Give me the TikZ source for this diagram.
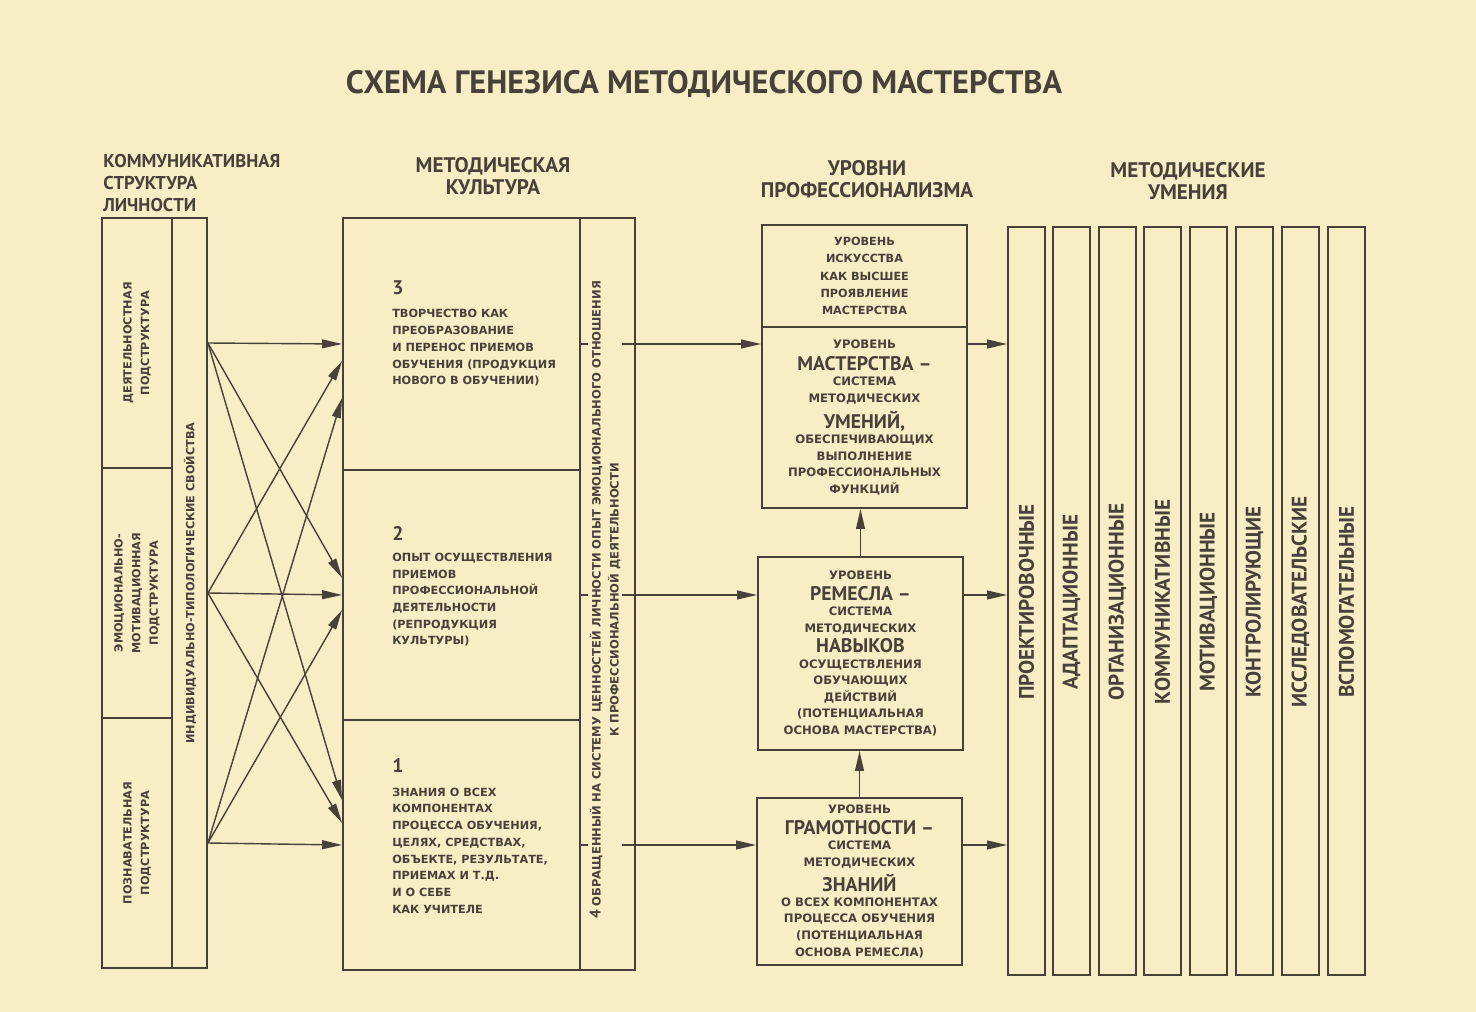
\documentclass[tikz,border=0pt]{standalone}
\usepackage{fontspec}
\setmainfont{DejaVu Sans}
\newfontfamily\ptsans{PT Sans}
\usetikzlibrary{arrows.meta,fit,calc,positioning}
\definecolor{paper}{HTML}{F8EEC5}
\definecolor{ink}{HTML}{48413A}
\newcommand\bigword[1]{{\ptsans\bfseries\fontsize{14}{14}\selectfont #1}}
\newcommand\numword[1]{{\ptsans\bfseries\fontsize{14}{14}\selectfont #1}}
\tikzset{
	cell/.style={draw=ink, line width=1.3pt, inner sep=0pt},
	head/.style={text=ink, inner sep=0pt, align=center, font=\ptsans\bfseries\fontsize{15}{15.8}\selectfont},
	vlbl/.style={text=ink, inner sep=0pt, align=center, rotate=90, font=\bfseries\fontsize{8}{12.5}\selectfont},
	mtxt/.style={text=ink, inner sep=0pt, align=left, font=\bfseries\fontsize{8}{11.9}\selectfont},
	ltxt/.style={text=ink, inner sep=0pt, align=center, font=\bfseries\fontsize{8.3}{11.8}\selectfont},
	skill/.style={text=ink, inner sep=0pt, rotate=90, font=\ptsans\bfseries\fontsize{15}{15}\selectfont},
	arr/.style={draw=ink, line width=1pt, -{Triangle[length=5mm,width=2.2mm]}},
}

\begin{document}
\begin{tikzpicture}[x=0.025cm,y=-0.025cm]
	\fill[paper] (0,0) rectangle (1476,1012);
	\useasboundingbox (0,0) rectangle (1476,1012);

	\node[text=ink, font=\ptsans\bfseries\fontsize{23}{23}\selectfont] (title) at (704,84) {СХЕМА ГЕНЕЗИСА МЕТОДИЧЕСКОГО МАСТЕРСТВА};

	% headers
	\node[head, align=left, anchor=north west, font=\ptsans\bfseries\fontsize{13.2}{15.5}\selectfont]	(hcomm)	at (103,154)	{КОММУНИКАТИВНАЯ\\СТРУКТУРА\\ЛИЧНОСТИ};
	\node[head]		(hcult)		at (493,176)	{МЕТОДИЧЕСКАЯ\\КУЛЬТУРА};
	\node[head]		(hlev)		at (867,179)	{УРОВНИ\\ПРОФЕССИОНАЛИЗМА};
	\node[head]		(hskill)	at (1188,181)	{МЕТОДИЧЕСКИЕ\\УМЕНИЯ};

	% structure of personality
	\node[cell, fit={(102,218) (172,468)}]	(act)	{};
	\node[cell, fit={(102,468) (172,718)}]	(emo)	{};
	\node[cell, fit={(102,718) (172,968)}]	(cog)	{};
	\node[cell, fit={(172,218) (207,968)}]	(ind)	{};

	% methodical culture
	\node[cell, fit={(343,218) (580,470)}]	(m3)	{};
	\node[cell, fit={(343,470) (580,720)}]	(m2)	{};
	\node[cell, fit={(343,720) (580,970)}]	(m1)	{};
	\node[cell, fit={(580,218) (635,970)}]	(emot)	{};

	% levels
	\node[cell, fit={(762,225) (967,327)}]	(art)	{};
	\node[cell, fit={(762,327) (967,508)}]	(mast)	{};
	\node[cell, fit={(758,557) (963,750)}]	(craft)	{};
	\node[cell, fit={(757,798) (962,965)}]	(lit)	{};

	% skills
	\foreach \xl/\word [count=\i] in {1008/ПРОЕКТИРОВОЧНЫЕ, 1053/АДАПТАЦИОННЫЕ, 1099/ОРГАНИЗАЦИОННЫЕ, 1144/КОММУНИКАТИВНЫЕ, 1190/МОТИВАЦИОННЫЕ, 1236/КОНТРОЛИРУЮЩИЕ, 1282/ИССЛЕДОВАТЕЛЬСКИЕ, 1328/ВСПОМОГАТЕЛЬНЫЕ} {
		\node[cell, fit={(\xl,227) (\xl+37,975)}]	(sk\i)	{};
		\node[skill]	at (\xl+18.5,602)	{\word};
	}

	% arrows
	\foreach \s in {act,emo,cog}
		\coordinate (\s-out) at (\s.center -| ind.east);
	\foreach \s/\tg/\d in {act/m3/0, act/m2/-17, act/m1/-45, emo/m3/17, emo/m2/0, emo/m1/-22, cog/m3/54, cog/m2/15, cog/m1/0}
		\draw[arr] (\s-out) -- ($(\tg.west)+(0,\d)$);
	\foreach \m/\l in {m3/mast, m2/craft, m1/lit} {
		\draw[arr] (\m.east) -- (\m.east -| \l.west);
		\draw[arr] (\m.east -| \l.east) -- (\m.east -| sk1.west);
	}
	\draw[arr] (craft.north) -- (craft.north |- mast.south);
	\draw[arr] (lit.north) -- (lit.north |- craft.south);

	% texts
	\node[vlbl]	at (act)		{ДЕЯТЕЛЬНОСТНАЯ\\ПОДСТРУКТУРА};
	\node[vlbl]	at (emo)		{ЭМОЦИОНАЛЬНО-\\МОТИВАЦИОННАЯ\\ПОДСТРУКТУРА};
	\node[vlbl]	at (cog)		{ПОЗНАВАТЕЛЬНАЯ\\ПОДСТРУКТУРА};
	\node[vlbl]	at (190,583)	{ИНДИВИДУАЛЬНО-ТИПОЛОГИЧЕСКИЕ СВОЙСТВА};

	\node[mtxt, anchor=north west]	at (392,280)	{\numword{3}\\[5pt]ТВОРЧЕСТВО КАК\\ПРЕОБРАЗОВАНИЕ\\И ПЕРЕНОС ПРИЕМОВ\\ОБУЧЕНИЯ (ПРОДУКЦИЯ\\НОВОГО В ОБУЧЕНИИ)};
	\node[mtxt, anchor=north west]	at (392,526)	{\numword{2}\\[3pt]ОПЫТ ОСУЩЕСТВЛЕНИЯ\\ПРИЕМОВ\\ПРОФЕССИОНАЛЬНОЙ\\ДЕЯТЕЛЬНОСТИ\\(РЕПРОДУКЦИЯ\\КУЛЬТУРЫ)};
	\node[mtxt, anchor=north west]	at (392,758)	{\numword{1}\\[5pt]ЗНАНИЯ О ВСЕХ\\КОМПОНЕНТАХ\\ПРОЦЕССА ОБУЧЕНИЯ,\\ЦЕЛЯХ, СРЕДСТВАХ,\\ОБЪЕКТЕ, РЕЗУЛЬТАТЕ,\\ПРИЕМАХ И Т.Д.\\И О СЕБЕ\\КАК УЧИТЕЛЕ};
	\node[vlbl, fill=paper, inner sep=1pt, font=\bfseries\fontsize{8.2}{12.8}\selectfont]	at (605,600)	{{\ptsans\fontsize{11}{11}\selectfont 4} ОБРАЩЕННЫЙ НА СИСТЕМУ ЦЕННОСТЕЙ ЛИЧНОСТИ ОПЫТ ЭМОЦИОНАЛЬНОГО ОТНОШЕНИЯ\\К ПРОФЕССИОНАЛЬНОЙ ДЕЯТЕЛЬНОСТИ};

	\node[ltxt, font=\bfseries\fontsize{8}{12.4}\selectfont]	at (art)	{УРОВЕНЬ\\ИСКУССТВА\\КАК ВЫСШЕЕ\\ПРОЯВЛЕНИЕ\\МАСТЕРСТВА};
	\node[ltxt]	at (mast)	{УРОВЕНЬ\\[4pt]\bigword{МАСТЕРСТВА –}\\[-1pt]СИСТЕМА\\МЕТОДИЧЕСКИХ\\[4pt]\bigword{УМЕНИЙ,}\\[-1pt]ОБЕСПЕЧИВАЮЩИХ\\ВЫПОЛНЕНИЕ\\ПРОФЕССИОНАЛЬНЫХ\\ФУНКЦИЙ};
	\node[ltxt]	at (craft)	{УРОВЕНЬ\\[3pt]\bigword{РЕМЕСЛА –}\\[-1pt]СИСТЕМА\\МЕТОДИЧЕСКИХ\\[3pt]\bigword{НАВЫКОВ}\\[-1pt]ОСУЩЕСТВЛЕНИЯ\\ОБУЧАЮЩИХ\\ДЕЙСТВИЙ\\(ПОТЕНЦИАЛЬНАЯ\\ОСНОВА МАСТЕРСТВА)};
	\node[ltxt]	at (lit)	{УРОВЕНЬ\\[3pt]\bigword{ГРАМОТНОСТИ –}\\[-1pt]СИСТЕМА\\МЕТОДИЧЕСКИХ\\[3pt]\bigword{ЗНАНИЙ}\\[-1pt]О ВСЕХ КОМПОНЕНТАХ\\ПРОЦЕССА ОБУЧЕНИЯ\\(ПОТЕНЦИАЛЬНАЯ\\ОСНОВА РЕМЕСЛА)};
\end{tikzpicture}
\end{document}
